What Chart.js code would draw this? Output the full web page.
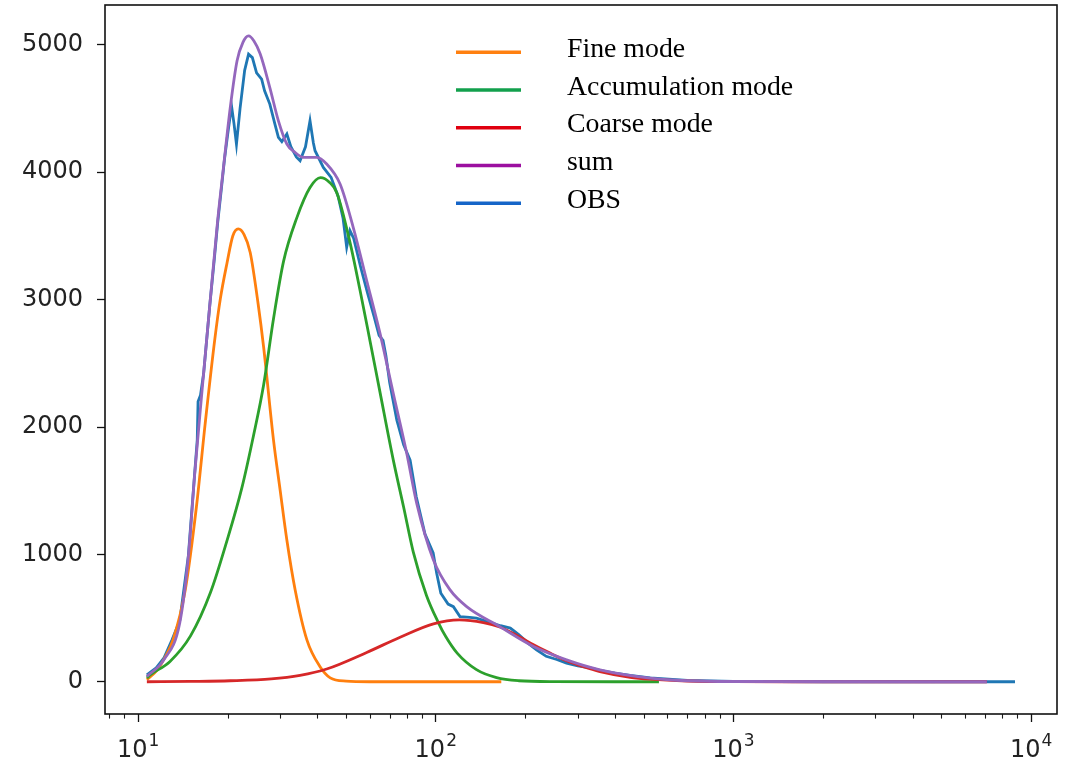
<!DOCTYPE html>
<html>
<head>
<meta charset="utf-8">
<script src="https://cdn.jsdelivr.net/npm/chart.js@4.4.1/dist/chart.umd.min.js"></script>
<style>
  html, body { margin: 0; padding: 0; background: #ffffff; }
  #wrap { width: 1068px; height: 766px; }
</style>
</head>
<body>
<div id="wrap"><canvas id="c" width="1068" height="766"></canvas></div>
<script>
// Particle size distribution: three fitted log-normal modes, their sum and the observation.
const fineX = [10.7, 11.6, 12.3, 13.1, 14.4, 15.7, 16.8, 18.1, 18.9, 19.9, 20.8, 21.7, 22.7, 23.8, 25.3, 26.4, 28.5, 30.0, 31.6, 33.7, 36.9, 40.8, 44.2, 50, 60, 100, 166];
const fineY = [15, 94, 190, 329, 721, 1374, 2027, 2690, 3010, 3290, 3500, 3555, 3510, 3370, 2968, 2628, 1897, 1505, 1113, 721, 329, 120, 31, 5, 0, 0, 0];

const accX = [10.7, 11.0, 12.8, 15.0, 17.5, 19.9, 22.3, 24.4, 26.4, 28.5, 30.8, 34.1, 37.8, 41.0, 44.0, 46.5, 51.5, 55.7, 60.2, 65.0, 72.0, 78.0, 84.0, 93.0, 102, 108, 118, 137, 160, 190, 250, 400, 562];
const accY = [30, 55, 160, 360, 700, 1110, 1520, 1930, 2330, 2850, 3300, 3640, 3880, 3958, 3920, 3840, 3450, 3070, 2670, 2270, 1740, 1370, 1020, 680, 465, 355, 225, 95, 32, 8, 1, 0, 0];

const coarseX = [10.7, 15, 20.4, 28, 35, 43, 58.6, 75.9, 98.2, 120, 144.5, 164, 187, 213, 242, 275, 313, 356, 450, 525, 700, 1000, 2000, 7100];
const coarseY = [0, 3, 8, 22, 50, 100, 230, 350, 455, 486, 465, 430, 365, 290, 225, 165, 118, 80, 35, 20, 6, 1, 0, 0];

const sumX = [10.7, 12.2, 13.8, 14.75, 15.5, 16.4, 17.4, 18.5, 19.3, 20.4, 21.5, 22.5, 23.5, 24.5, 25.7, 27.7, 29.6, 31.6, 33.5, 35.9, 39.8, 43.0, 47.7, 52.8, 58.6, 65.0, 72.0, 79.9, 86.3, 98.2, 111.7, 127, 164, 213, 275, 356, 525, 700, 1000, 7100];
const sumY = [42, 172, 462, 982, 1638, 2288, 2950, 3621, 4012, 4509, 4875, 5020, 5070, 5030, 4930, 4665, 4404, 4222, 4160, 4117, 4117, 4065, 3908, 3568, 3150, 2733, 2263, 1792, 1400, 956, 721, 590, 433, 277, 172, 94, 29, 8, 2, 0];

const obsX = [10.7, 11.5, 12.2, 13.0, 13.8, 14.75, 15.4, 15.8, 15.9, 16.2, 16.6, 17.4, 18.0, 18.5, 19.0, 19.5, 20.0, 20.6, 21.0, 21.4, 22.0, 22.8, 23.5, 24.2, 25.0, 26.0, 26.6, 27.7, 28.8, 29.6, 30.4, 31.6, 32.6, 34.0, 35.0, 36.5, 37.8, 38.8, 39.3, 41.9, 44.5, 47.0, 48.8, 50.2, 51.5, 53, 56, 59, 62, 64.5, 66.5, 68, 70, 74, 78, 82, 86, 92, 98, 100.7, 104, 110, 114.6, 120.6, 130, 137, 150, 165, 178, 190, 205, 218, 235, 255, 275, 300, 330, 356, 400, 450, 525, 700, 1000, 2000, 5000, 8830];
const obsY = [55, 110, 185, 330, 480, 990, 1560, 1900, 2200, 2250, 2420, 2950, 3300, 3600, 3850, 4100, 4300, 4520, 4380, 4220, 4500, 4800, 4927, 4900, 4780, 4731, 4640, 4535, 4380, 4274, 4240, 4300, 4200, 4120, 4091, 4200, 4404, 4230, 4169, 4038, 3960, 3810, 3640, 3411, 3542, 3480, 3250, 3050, 2870, 2720, 2680, 2560, 2350, 2053, 1860, 1740, 1452, 1160, 1011, 852, 695, 610, 590, 512, 505, 499, 470, 440, 421, 370, 300, 251, 200, 175, 147, 125, 110, 90, 68, 50, 30, 10, 3, 0, 0, 0];

const seriesNames = ['Fine mode', 'Accumulation mode', 'Coarse mode', 'sum', 'OBS'];
const lineColors = ['#ff7f0e', '#2ca02c', '#d62728', '#9467bd', '#1f77b4'];
const keyColors = ['#ff8010', '#12a04c', '#e0000f', '#9c0fa0', '#1565c8'];

const xMajorTicks = [10, 100, 1000, 10000];
const xMajorBase = '10';
const xMajorExps = ['1', '2', '3', '4'];
const yTicks = [0, 1000, 2000, 3000, 4000, 5000];

const pairs = (xs, ys) => xs.map((x, i) => ({ x: x, y: ys[i] }));
const seriesX = [fineX, accX, coarseX, sumX, obsX];
const seriesY = [fineY, accY, coarseY, sumY, obsY];
// lower order values are drawn on top: sum uppermost, OBS underneath
const drawOrder = [3, 2, 1, 0, 4];

const datasets = seriesNames.map((name, i) => ({
  label: name,
  data: pairs(seriesX[i], seriesY[i]),
  borderColor: lineColors[i],
  keyColor: keyColors[i],
  borderWidth: 2.8,
  pointRadius: 0,
  fill: false,
  order: drawOrder[i],
  cubicInterpolationMode: name === 'OBS' ? 'default' : 'monotone',
  tension: 0
}));

const TICK_FONT = '"DejaVu Sans", sans-serif';

const framePlugin = {
  id: 'frame',
  afterDraw(chart) {
    const { ctx, chartArea: a, scales } = chart;
    const sx = scales.x;
    ctx.save();
    // minor ticks on the log axis
    ctx.strokeStyle = '#1a1a1a';
    ctx.lineWidth = 1.1;
    sx.ticks.forEach(t => {
      if (t.major) return;
      const px = Math.round(sx.getPixelForValue(t.value)) + 0.5;
      ctx.beginPath();
      ctx.moveTo(px, a.bottom);
      ctx.lineTo(px, a.bottom + 4.6);
      ctx.stroke();
    });
    // power-of-ten labels with raised exponents
    ctx.fillStyle = '#222222';
    ctx.textBaseline = 'alphabetic';
    ctx.textAlign = 'left';
    xMajorTicks.forEach((v, k) => {
      if (v < sx.min || v > sx.max) return;
      const px = sx.getPixelForValue(v);
      ctx.font = '24px ' + TICK_FONT;
      const wBase = ctx.measureText(xMajorBase).width;
      ctx.font = '17px ' + TICK_FONT;
      const wExp = ctx.measureText(xMajorExps[k]).width;
      const x0 = px - (wBase + wExp + 1) / 2;
      ctx.font = '24px ' + TICK_FONT;
      ctx.fillText(xMajorBase, x0, 757);
      ctx.font = '17px ' + TICK_FONT;
      ctx.fillText(xMajorExps[k], x0 + wBase + 1, 746);
    });
    // axes box
    ctx.strokeStyle = '#111111';
    ctx.lineWidth = 1.6;
    ctx.strokeRect(a.left, a.top, a.right - a.left, a.bottom - a.top);
    ctx.restore();
  }
};

const keyPlugin = {
  id: 'key',
  afterDraw(chart) {
    const ctx = chart.ctx;
    ctx.save();
    ctx.font = '27.8px "Liberation Serif", "Times New Roman", serif';
    ctx.textAlign = 'left';
    ctx.textBaseline = 'alphabetic';
    chart.data.datasets.forEach((ds, i) => {
      const y = 52.3 + i * 37.75;
      ctx.strokeStyle = ds.keyColor;
      ctx.lineWidth = 3.4;
      ctx.beginPath();
      ctx.moveTo(456, y);
      ctx.lineTo(521, y);
      ctx.stroke();
      ctx.fillStyle = '#000000';
      ctx.fillText(ds.label, 567, y + 4.5);
    });
    ctx.restore();
  }
};

new Chart(document.getElementById('c'), {
  type: 'line',
  data: { datasets: datasets },
  options: {
    responsive: false,
    animation: false,
    devicePixelRatio: 1,
    layout: { padding: { top: 5, right: 11, left: 0, bottom: 0 } },
    plugins: { legend: { display: false }, title: { display: false }, tooltip: { enabled: false } },
    scales: {
      x: {
        type: 'logarithmic',
        min: 7.74,
        max: 12220,
        afterFit(scale) {
          scale.height = 52;
          scale.paddingLeft = 0; scale.paddingRight = 0;
          scale.paddingTop = 0; scale.paddingBottom = 0;
        },
        afterBuildTicks(scale) {
          const list = [];
          for (let e = 0; e <= 4; e++) {
            for (let m = 1; m <= 9; m++) {
              const v = m * Math.pow(10, e);
              if (v >= scale.min && v <= scale.max) list.push({ value: v, major: m === 1 });
            }
          }
          scale.ticks = list;
        },
        ticks: {
          autoSkip: false,
          maxRotation: 0,
          callback() { return ''; }
        },
        grid: {
          drawOnChartArea: false,
          drawTicks: true,
          tickLength: 8,
          tickWidth: 1.3,
          tickColor: (c) => (c.tick && c.tick.major) ? '#111111' : 'rgba(0,0,0,0)'
        },
        border: { display: false }
      },
      y: {
        type: 'linear',
        min: -253,
        max: 5313,
        afterFit(scale) {
          scale.width = 105;
          scale.paddingLeft = 0; scale.paddingRight = 0;
          scale.paddingTop = 0; scale.paddingBottom = 0;
        },
        afterBuildTicks(scale) { scale.ticks = yTicks.map(v => ({ value: v })); },
        ticks: {
          padding: 14,
          color: '#222222',
          font: { family: TICK_FONT, size: 24 },
          callback(value) { return String(value); }
        },
        grid: {
          drawOnChartArea: false,
          drawTicks: true,
          tickLength: 8,
          tickWidth: 1.3,
          tickColor: '#111111'
        },
        border: { display: false }
      }
    }
  },
  plugins: [framePlugin, keyPlugin]
});
</script>
</body>
</html>
